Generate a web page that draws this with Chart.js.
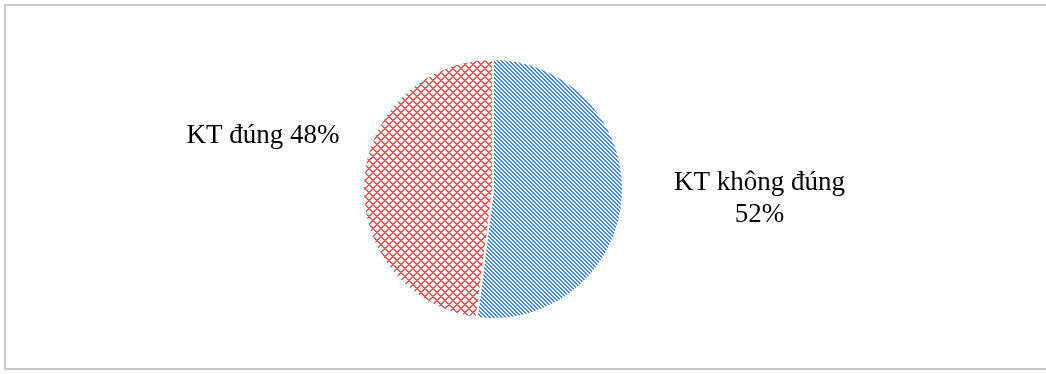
<!DOCTYPE html>
<html>
<head>
<meta charset="utf-8">
<script src="https://cdn.jsdelivr.net/npm/chart.js@4.4.1/dist/chart.umd.min.js"></script>
<style>
  html, body { margin: 0; padding: 0; background: #ffffff; }
  #wrap { position: relative; width: 1046px; height: 374px; }
  #frame { position: absolute; left: 4px; top: 4px; width: 1046px; height: 366px; border: 2px solid #c8c8c8; box-sizing: border-box; }
  canvas { position: absolute; left: 0; top: 0; }
</style>
</head>
<body>
<div id="wrap">
  <div id="frame"></div>
  <canvas id="c" width="1046" height="374"></canvas>
</div>
<script>
const categories = ["KT không đúng", "KT đúng"];
const values = [52, 48];
const labelLines = [["KT không đúng", "52%"], ["KT đúng 48%"]];

function stripePattern(color) {
  const s = 4, cv = document.createElement('canvas');
  cv.width = s; cv.height = s;
  const g = cv.getContext('2d');
  g.fillStyle = '#ffffff'; g.fillRect(0, 0, s, s);
  g.fillStyle = color;
  for (let y = 0; y < s; y++) for (let x = 0; x < s; x++) {
    const d = (x - y + s) % s;
    if (d === 0 || d === 1) g.fillRect(x, y, 1, 1);
  }
  return g.createPattern(cv, 'repeat');
}
function crossPattern(color) {
  const s = 8, cv = document.createElement('canvas');
  cv.width = s; cv.height = s;
  const g = cv.getContext('2d');
  g.fillStyle = '#ffffff'; g.fillRect(0, 0, s, s);
  g.fillStyle = color;
  for (let y = 0; y < s; y++) for (let x = 0; x < s; x++) {
    const a = (x + y) % s, b = (x - y + s) % s;
    if (a === 0 || a === 1 || b === 0 || b === 1) g.fillRect(x, y, 1, 1);
  }
  return g.createPattern(cv, 'repeat');
}

const labelPlugin = {
  id: 'labels',
  afterDatasetsDraw(chart) {
    const ctx = chart.ctx;
    const arcs = chart.getDatasetMeta(0).data;
    if (!arcs.length) return;
    const cx = arcs[0].x, cy = arcs[0].y, r = arcs[0].outerRadius;
    ctx.save();
    ctx.fillStyle = '#000000';
    ctx.font = '27px "Liberation Serif", "Times New Roman", serif';
    ctx.textAlign = 'center';
    ctx.textBaseline = 'middle';
    // blue slice label (right)
    const bx = cx + r * 2.05, by = cy - r * 0.05;
    labelLines[0].forEach((t, i) => ctx.fillText(t, bx, by + i * 32));
    // red slice label (left)
    const rx = cx - r * 1.77, ry = cy - r * 0.41;
    labelLines[1].forEach((t, i) => ctx.fillText(t, rx, ry + i * 32));
    ctx.restore();
  }
};

new Chart(document.getElementById('c'), {
  type: 'pie',
  data: {
    labels: categories,
    datasets: [{
      data: values,
      backgroundColor: [stripePattern('#4285cc'), crossPattern('#e35b55')],
      borderColor: '#ffffff',
      borderWidth: 2
    }]
  },
  options: {
    responsive: false,
    animation: false,
    layout: { padding: { left: 362, right: 422, top: 58, bottom: 54 } },
    plugins: { legend: { display: false }, tooltip: { enabled: false } }
  },
  plugins: [labelPlugin]
});
</script>
</body>
</html>
